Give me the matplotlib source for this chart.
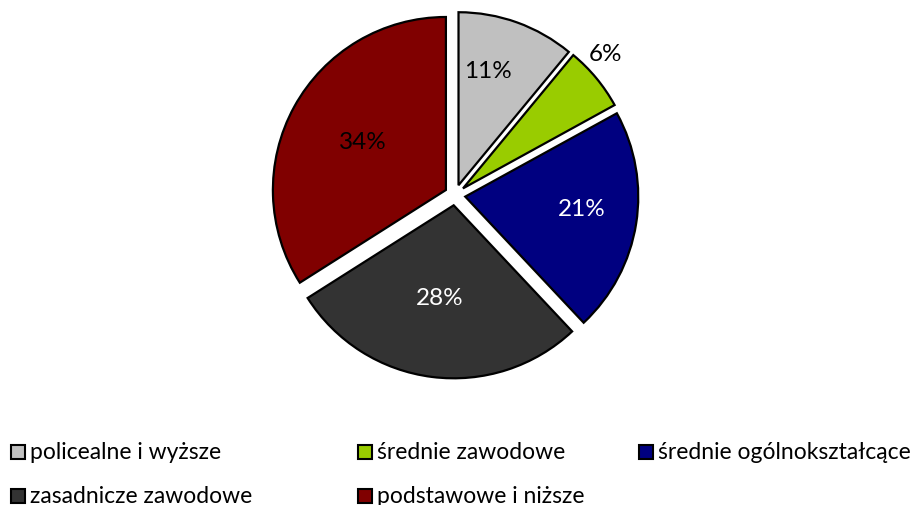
import matplotlib
matplotlib.use('Agg')
import matplotlib.pyplot as plt
from matplotlib.patches import Rectangle

plt.rcParams['font.family'] = ['Lato', 'DejaVu Sans']

categories = ['policealne i wyższe', 'średnie zawodowe', 'średnie ogólnokształcące',
              'zasadnicze zawodowe', 'podstawowe i niższe']
shares = [11, 6, 21, 28, 34]
colors = ['#C0C0C0', '#99CC00', '#000080', '#333333', '#800000']
label_colors = ['black', 'black', 'white', 'white', 'black']
# where Excel put the percentage labels (pie data units, radius = 1)
label_xy = [(0.19, 0.72), (0.87, 0.82), (0.73, -0.08), (-0.09, -0.59), (-0.53, 0.31)]

W, H = 910, 506
fig = plt.figure(figsize=(W / 100, H / 100), dpi=100)

# pie axes: centre at (455, 196) px, radius 173 px
R = 173
lim = 1.2
side = 2 * lim * R
ax = fig.add_axes([(455 - side / 2) / W, (H - 196 - side / 2) / H, side / W, side / H])
wedges, _ = ax.pie(shares, colors=colors, startangle=90, counterclock=False,
                   explode=[0.06] * len(shares),
                   wedgeprops=dict(edgecolor='black', linewidth=1.6))
ax.set_xlim(-lim, lim)
ax.set_ylim(-lim, lim)
ax.axis('off')

for val, c, (lx, ly) in zip(shares, label_colors, label_xy):
    ax.text(lx, ly, '%d%%' % val, ha='center', va='center', fontsize=17.5, color=c)

# legend, fixed column positions like Excel
col_x = [11, 358, 639]
row_y = [453, 497]
sq = 14
for i, (name, col) in enumerate(zip(categories, colors)):
    x = col_x[i % 3]
    y = row_y[i // 3]
    fig.patches.append(Rectangle((x / W, (H - y - sq / 2) / H), sq / W, sq / H,
                                 facecolor=col, edgecolor='black', linewidth=1.5,
                                 transform=fig.transFigure, figure=fig))
    fig.text((x + sq + 5) / W, (H - y) / H, name, ha='left', va='center',
             fontsize=16.5, color='black')

fig.savefig('out.png', dpi=100)
